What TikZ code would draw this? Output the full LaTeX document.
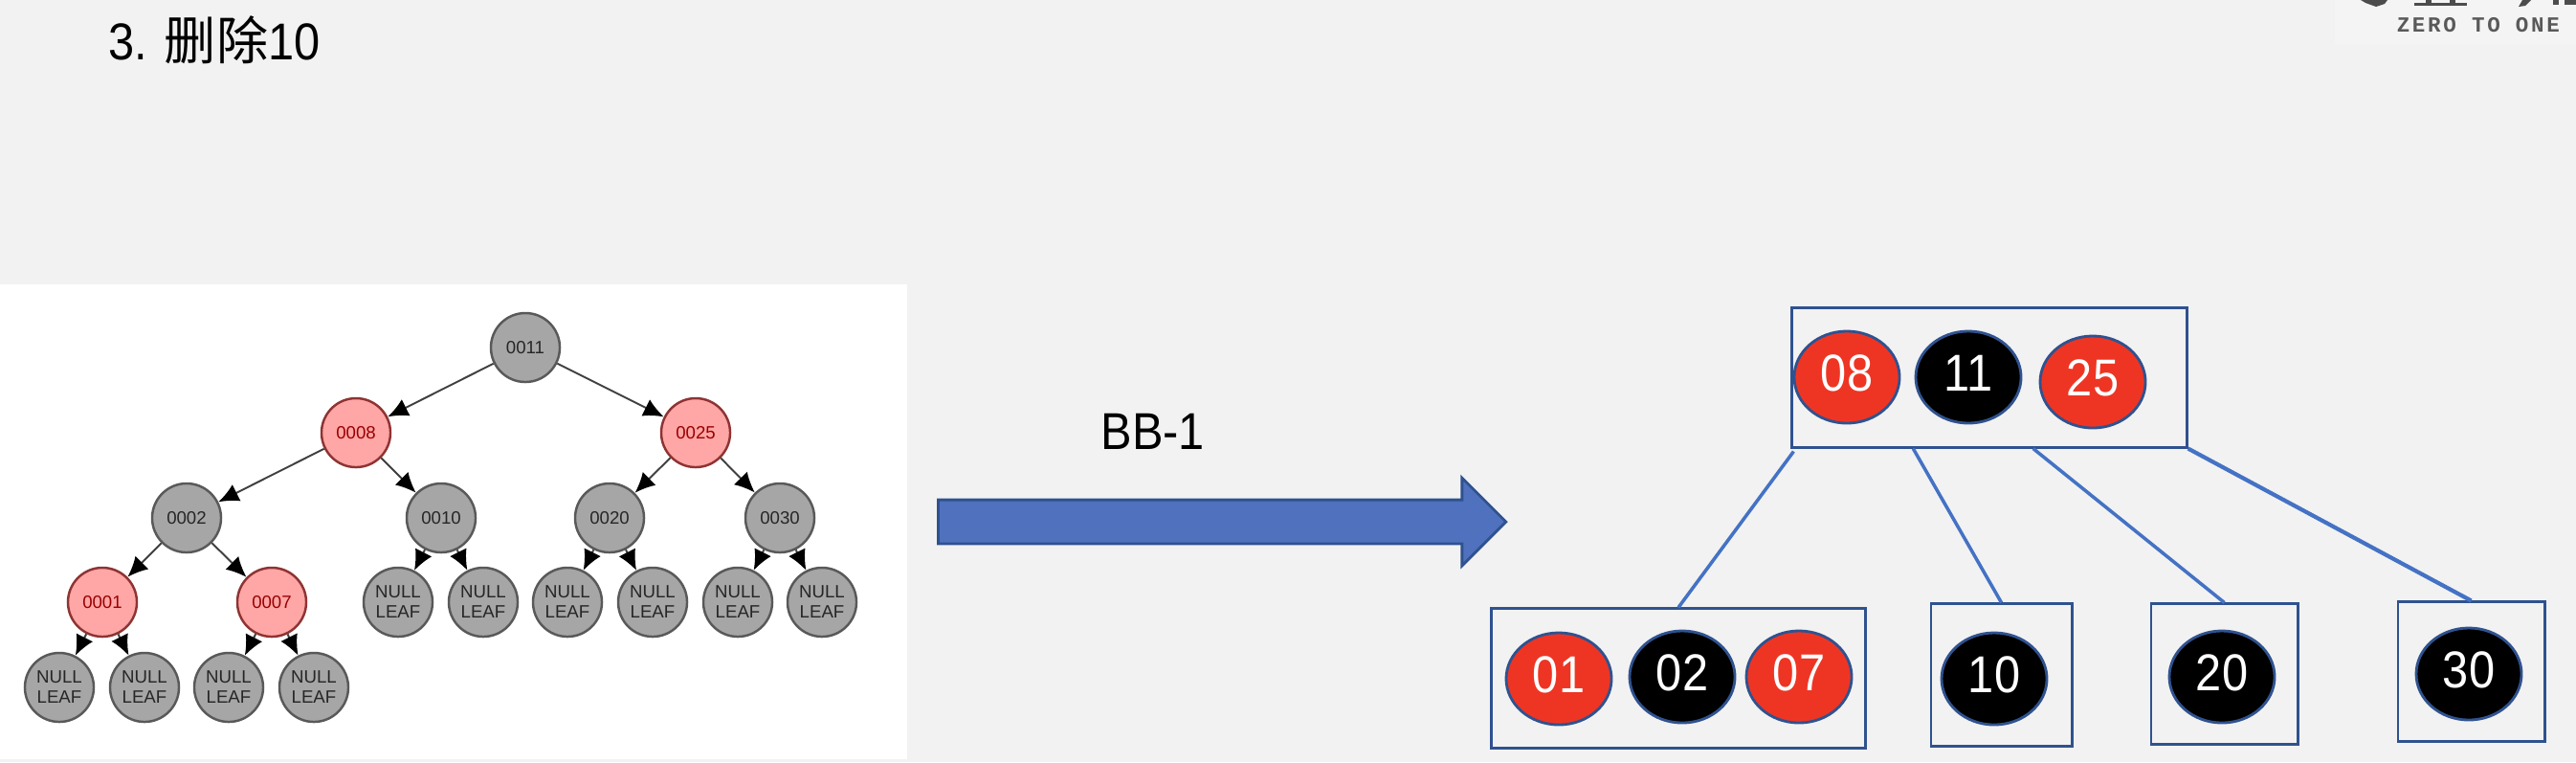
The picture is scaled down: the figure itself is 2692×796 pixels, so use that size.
\documentclass[tikz,border=0pt]{standalone}
\usepackage{fontspec}
\setmainfont{Liberation Sans}
\newfontfamily\cjk{Noto Sans CJK SC}
\newfontfamily\logofont[LetterSpace=12]{Liberation Mono}
\usetikzlibrary{arrows.meta,calc,shapes.geometric,shapes.arrows}
\definecolor{pagegray}{HTML}{F2F2F2}
\definecolor{logogray}{HTML}{F4F4F4}
\definecolor{bbblue}{HTML}{2F528F}
\definecolor{linkblue}{HTML}{4472C4}
\definecolor{arrowblue}{HTML}{4F71BE}
\definecolor{keyred}{HTML}{EE3524}
\newcommand{\squeezed}[1]{\scalebox{0.9}[1]{#1}}
\newcommand{\keytext}[1]{\raisebox{0.09cm}{\squeezed{#1}}}
\tikzstyle{rbnode} = [draw=black!65, fill=black!35, line width=0.7pt, circle, minimum size=0.72cm,
    inner sep=0pt, text=black!85, align=center, font=\fontsize{5.3}{6}\selectfont]
\tikzstyle{rbred} = [rbnode, draw=red!45!black!80, fill=red!35!white, text=red!60!black]
\tikzstyle{rblink} = [draw=black!75, line width=0.55pt, -{Latex[black,length=6pt,width=5.5pt]}]
\tikzstyle{bbbox} = [draw=bbblue, line width=0.85pt, rectangle, inner sep=0pt]
\tikzstyle{bbkey} = [draw=bbblue, fill=black, line width=0.8pt, ellipse, minimum width=1.1cm, minimum height=0.96cm,
    inner sep=0pt, text=white, font=\fontsize{15.4}{18}\selectfont]
\tikzstyle{bbred} = [bbkey, fill=keyred]
\tikzstyle{bblink} = [draw=linkblue, line width=1pt]
\tikzstyle{bigtext} = [inner sep=0pt, anchor=base west, font=\fontsize{15.4}{18}\selectfont]

\begin{document}
\begin{tikzpicture}[x=0.01cm,y=-0.01cm]
    \useasboundingbox (0,0) rectangle (2692,796);
    \fill[pagegray] (0,0) rectangle (2692,796);
    \fill[white] (0,297) rectangle (948,793);
    % logo corner
    \fill[logogray] (2440,0) rectangle (2692,46);
    \fill[black!70] (2467,0) -- (2495,0) -- (2492,4) -- (2483,7) -- (2472,3) -- cycle;
    \fill[black!70] (2523,3) rectangle (2578,6);
    \fill[black!70] (2535,0) rectangle (2541,3);
    \fill[black!70] (2560,0) rectangle (2566,3);
    \fill[black!70] (2636,0) -- (2645,0) -- (2639,6) -- (2632,7) -- cycle;
    \fill[black!70] (2668,0) rectangle (2674,5);
    \fill[black!70] (2680,0) rectangle (2692,5);
    \node[inner sep=0pt, anchor=base west, text=black!65] (logotext) at (2504,33)
        {\logofont\bfseries\fontsize{6.4}{8}\selectfont ZERO TO ONE};

    \node[bigtext] (title) at (113,62) {\squeezed{3.\ }\hspace{0.04cm}{\cjk 删除}\squeezed{10}};
    \node[bigtext] (bblabel) at (1150,469) {\squeezed{BB-1}};
    \node[draw=bbblue, fill=arrowblue, line width=0.8pt, single arrow, single arrow head extend=0.23cm,
        single arrow head indent=0pt, minimum width=0.89cm, minimum height=5.93cm, inner sep=0pt, anchor=tail] (bbarrow) at (979,545) {\rule{0pt}{0.43cm}};

    % red-black tree
    \node[rbnode] (n11) at (549,363) {0011};
    \node[rbred] (n08) at (372,452) {0008};
    \node[rbred] (n25) at (727,452) {0025};
    \node[rbnode] (n02) at (195,541) {0002};
    \node[rbnode] (n10) at (461,541) {0010};
    \node[rbnode] (n20) at (637,541) {0020};
    \node[rbnode] (n30) at (815,541) {0030};
    \node[rbred] (n01) at (107,629) {0001};
    \node[rbred] (n07) at (284,629) {0007};
    \node[rbnode] (l1) at (416,629) {NULL\\LEAF};
    \node[rbnode] (l2) at (505,629) {NULL\\LEAF};
    \node[rbnode] (l3) at (593,629) {NULL\\LEAF};
    \node[rbnode] (l4) at (682,629) {NULL\\LEAF};
    \node[rbnode] (l5) at (771,629) {NULL\\LEAF};
    \node[rbnode] (l6) at (859,629) {NULL\\LEAF};
    \node[rbnode] (l7) at (62,718) {NULL\\LEAF};
    \node[rbnode] (l8) at (151,718) {NULL\\LEAF};
    \node[rbnode] (l9) at (239,718) {NULL\\LEAF};
    \node[rbnode] (l10) at (328,718) {NULL\\LEAF};
    \draw[rblink] (n11) -- (n08);
    \draw[rblink] (n11) -- (n25);
    \draw[rblink] (n08) -- (n02);
    \draw[rblink] (n08) -- (n10);
    \draw[rblink] (n25) -- (n20);
    \draw[rblink] (n25) -- (n30);
    \draw[rblink] (n02) -- (n01);
    \draw[rblink] (n02) -- (n07);
    \draw[rblink] (n10) -- (l1);
    \draw[rblink] (n10) -- (l2);
    \draw[rblink] (n20) -- (l3);
    \draw[rblink] (n20) -- (l4);
    \draw[rblink] (n30) -- (l5);
    \draw[rblink] (n30) -- (l6);
    \draw[rblink] (n01) -- (l7);
    \draw[rblink] (n01) -- (l8);
    \draw[rblink] (n07) -- (l9);
    \draw[rblink] (n07) -- (l10);

    % 2-3-4 tree
    \node[bbbox, minimum width=4.12cm, minimum height=1.45cm] (topbox) at (2079,394.5) {};
    \node[bbbox, minimum width=3.90cm, minimum height=1.45cm] (box1) at (1754,708.5) {};
    \node[bbbox, minimum width=1.47cm, minimum height=1.48cm] (box2) at (2091.5,705) {};
    \node[bbbox, minimum width=1.53cm, minimum height=1.46cm] (box3) at (2324.5,704) {};
    \node[bbbox, minimum width=1.53cm, minimum height=1.45cm] (box4) at (2582.5,701.5) {};
    \node[bbred] (k08) at (1930,394) {\keytext{08}};
    \node[bbkey] (k11) at (2057,394) {\keytext{11}};
    \node[bbred] (k25) at (2187,399) {\keytext{25}};
    \node[bbred] (k01) at (1629,709) {\keytext{01}};
    \node[bbkey] (k02) at (1758,707) {\keytext{02}};
    \node[bbred] (k07) at (1880,707) {\keytext{07}};
    \node[bbkey] (k10) at (2084,709) {\keytext{10}};
    \node[bbkey] (k20) at (2322,707) {\keytext{20}};
    \node[bbkey] (k30) at (2580,704) {\keytext{30}};
    \draw[bblink] ($(topbox.south west)+(3,3)$) -- (box1.north);
    \draw[bblink] ($(topbox.south west)!0.308!(topbox.south east)$) -- (box2.north);
    \draw[bblink] ($(topbox.south west)!0.61!(topbox.south east)$) -- (box3.north);
    \draw[bblink, line width=1.2pt] (topbox.south east) -- (box4.north);
\end{tikzpicture}
\end{document}
